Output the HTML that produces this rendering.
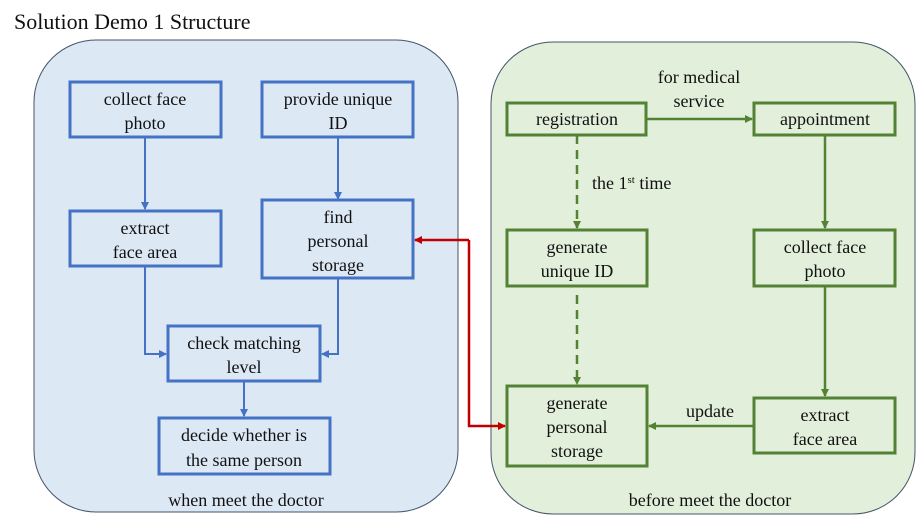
<!DOCTYPE html>
<html><head><meta charset="utf-8"><style>
body{margin:0;background:#fff;width:916px;height:524px;overflow:hidden}
svg text{font-family:"Liberation Serif","Times New Roman","DejaVu Serif",serif;font-size:18px;fill:#111}
</style></head><body>
<svg width="916" height="524" viewBox="0 0 916 524" font-family="Liberation Serif, Times New Roman, serif">
<defs>
<marker id="b" markerWidth="10" markerHeight="10" refX="7" refY="5" orient="auto" markerUnits="userSpaceOnUse"><path d="M0,1 L8,5 L0,9z" fill="#4472c4"/></marker>
<marker id="g" markerWidth="10" markerHeight="10" refX="7" refY="5" orient="auto" markerUnits="userSpaceOnUse"><path d="M0,1 L8,5 L0,9z" fill="#548235"/></marker>
<marker id="r" markerWidth="10" markerHeight="10" refX="7" refY="5" orient="auto" markerUnits="userSpaceOnUse"><path d="M0,1 L8,5 L0,9z" fill="#c00000"/></marker>
</defs>
<text x="14" y="29" style="font-size:22px">Solution Demo 1 Structure</text>
<rect x="34" y="40" width="424" height="472" rx="62" fill="#dde8f5" stroke="#44546a" stroke-width="1"/>
<rect x="491" y="42" width="424" height="472" rx="62" fill="#e2efda" stroke="#44546a" stroke-width="1"/>
<g fill="none" stroke="#4472c4" stroke-width="3">
<rect x="70" y="82" width="151" height="55"/>
<rect x="262" y="82" width="151" height="55"/>
<rect x="70" y="211" width="151" height="55"/>
<rect x="262" y="200" width="151" height="78"/>
<rect x="168" y="326" width="152" height="55"/>
<rect x="159" y="418" width="171" height="56"/>
</g>
<g fill="none" stroke="#4472c4" stroke-width="2">
<path d="M145 137V209" marker-end="url(#b)"/>
<path d="M338 137V199" marker-end="url(#b)"/>
<path d="M145 266V354H166" marker-end="url(#b)"/>
<path d="M338 278V354H322" marker-end="url(#b)"/>
<path d="M244 381V416" marker-end="url(#b)"/>
</g>
<g fill="none" stroke="#548235" stroke-width="3">
<rect x="507" y="103" width="139" height="32"/>
<rect x="754" y="103" width="141" height="32"/>
<rect x="507" y="230" width="140" height="56"/>
<rect x="754" y="230" width="141" height="56"/>
<rect x="507" y="386" width="140" height="80"/>
<rect x="754" y="398" width="141" height="55"/>
</g>
<g fill="none" stroke="#548235" stroke-width="2.5">
<path d="M646 119H752" marker-end="url(#g)"/>
<path d="M825 135V228" marker-end="url(#g)"/>
<path d="M825 286V396" marker-end="url(#g)"/>
<path d="M754 426H649" marker-end="url(#g)"/>
<path d="M577 135V228" stroke-dasharray="9,6" marker-end="url(#g)"/>
<path d="M577 295V384" stroke-dasharray="9,6" marker-end="url(#g)"/>
</g>
<path d="M469 240V426H505" fill="none" stroke="#c00000" stroke-width="2.5" marker-end="url(#r)"/>
<path d="M469 240H415" fill="none" stroke="#c00000" stroke-width="2.5" marker-end="url(#r)"/>
<g text-anchor="middle">
<text x="145" y="105">collect face</text><text x="145" y="129">photo</text>
<text x="338" y="105">provide unique</text><text x="338" y="129">ID</text>
<text x="145" y="234">extract</text><text x="145" y="258">face area</text>
<text x="338" y="223">find</text><text x="338" y="247">personal</text><text x="338" y="271">storage</text>
<text x="244" y="349">check matching</text><text x="244" y="373">level</text>
<text x="244" y="441">decide whether is</text><text x="244" y="466">the same person</text>
<text x="246" y="506">when meet the doctor</text>
<text x="577" y="125">registration</text>
<text x="825" y="125">appointment</text>
<text x="699" y="83">for medical</text><text x="699" y="107">service</text>
<text x="577" y="253">generate</text><text x="577" y="277">unique ID</text>
<text x="825" y="253">collect face</text><text x="825" y="277">photo</text>
<text x="577" y="409">generate</text><text x="577" y="433">personal</text><text x="577" y="457">storage</text>
<text x="825" y="421">extract</text><text x="825" y="445">face area</text>
<text x="710" y="417">update</text>
<text x="710" y="506">before meet the doctor</text>
</g>
<text x="592" y="189">the 1<tspan dy="-6" style="font-size:11px">st</tspan><tspan dy="6"> time</tspan></text>
</svg>
</body></html>
